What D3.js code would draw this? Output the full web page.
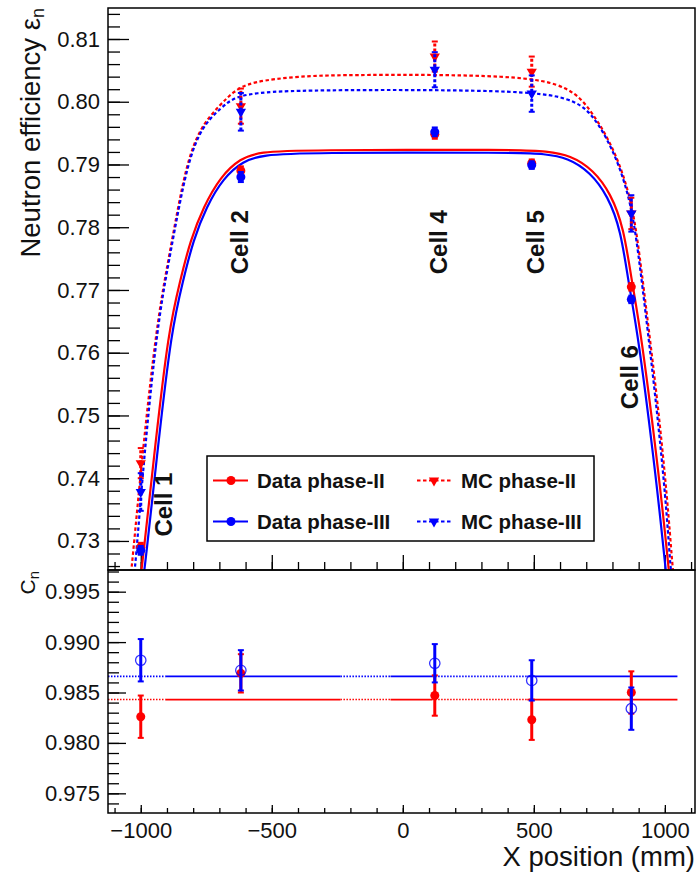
<!DOCTYPE html>
<html>
<head>
<meta charset="utf-8">
<script src="https://cdn.jsdelivr.net/npm/d3@7"></script>
<style>
  body { margin: 0; background: #fff; }
  svg { display: block; font-family: "Liberation Sans", Arial, Helvetica, sans-serif; }
</style>
</head>
<body>
<svg id="chart" width="698" height="872"></svg>
<script>
// cell positions (mm) and efficiencies
var cells = [-1000, -618, 122, 492, 872]
var cellNames = ['Cell 1', 'Cell 2', 'Cell 4', 'Cell 5', 'Cell 6']
var cellLabelX = [-880, -590, 170, 537, 896]
var cellLabelY = [0.7358, 0.7776, 0.7776, 0.7776, 0.7561]

var dataP2 = [0.7290, 0.7890, 0.7948, 0.7902, 0.7705]
var dataP2Err = [0.0007, 0.0007, 0.0007, 0.0006, 0.0006]
var dataP3 = [0.7285, 0.7880, 0.7952, 0.7899, 0.7685]
var dataP3Err = [0.0007, 0.0008, 0.0007, 0.0006, 0.0006]
var mcP2 = [0.7424, 0.7993, 0.8072, 0.8048, 0.7822]
var mcP2Err = [0.0024, 0.0028, 0.0024, 0.0024, 0.0025]
var mcP3 = [0.7378, 0.7984, 0.8051, 0.8013, 0.7822]
var mcP3Err = [0.0030, 0.0030, 0.0028, 0.0029, 0.0029]

// fitted curves [mm, efficiency]
var fitDataP2 = [[-1002, 0.7240], [-995, 0.7258], [-944, 0.7456], [-894, 0.7636], [-849, 0.7716], [-811, 0.7779],
  [-760, 0.7833], [-697, 0.7880], [-620, 0.7910], [-544, 0.7920], [-391, 0.7923], [449, 0.7924], [545, 0.7921],
  [640, 0.7915], [728, 0.7891], [793, 0.7854], [843, 0.7800], [874, 0.7712], [908, 0.7636], [980, 0.7397],
  [1014, 0.7258], [1019, 0.7237]]
var fitDataP3 = [[-991, 0.7240], [-984, 0.7258], [-933, 0.7456], [-883, 0.7636], [-838, 0.7716], [-800, 0.7779],
  [-749, 0.7833], [-686, 0.7878], [-609, 0.7906], [-533, 0.7915], [-380, 0.7919], [449, 0.7919], [535, 0.7917],
  [630, 0.7911], [717, 0.7887], [782, 0.7850], [832, 0.7796], [863, 0.7706], [897, 0.7632], [969, 0.7393],
  [1003, 0.7254], [1008, 0.7237]]
var fitMcP2 = [[-1040, 0.7240], [-1034, 0.7258], [-990, 0.7456], [-938, 0.7647], [-900, 0.7736], [-862, 0.7822],
  [-824, 0.7902], [-773, 0.7960], [-697, 0.7995], [-647, 0.8016], [-582, 0.8032], [-391, 0.8041], [-200, 0.8043],
  [449, 0.8043], [640, 0.8024], [716, 0.7987], [781, 0.7944], [832, 0.7896], [870, 0.7843], [895, 0.7785],
  [927, 0.7676], [972, 0.7524], [1010, 0.7365], [1029, 0.7258], [1035, 0.7240]]
var fitMcP3 = [[-1027, 0.7240], [-1021, 0.7258], [-983, 0.7456], [-935, 0.7647], [-897, 0.7736], [-859, 0.7822],
  [-820, 0.7902], [-769, 0.7960], [-689, 0.7992], [-647, 0.8006], [-571, 0.8014], [-391, 0.8019], [449, 0.8019],
  [640, 0.8006], [716, 0.7984], [778, 0.7943], [828, 0.7896], [866, 0.7843], [891, 0.7785], [923, 0.7676],
  [966, 0.7524], [1004, 0.7365], [1021, 0.7258], [1027, 0.7240]]

// correction factors C_n (lower pad)
var cnP2 = [0.9826, 0.9869, 0.9847, 0.9823, 0.9850]
var cnP2Err = [0.0021, 0.0019, 0.0020, 0.0020, 0.0021]
var cnP3 = [0.9882, 0.9872, 0.9879, 0.9862, 0.9834]
var cnP3Err = [0.0021, 0.0020, 0.0019, 0.0020, 0.0021]
var cnFitP2 = 0.9843
var cnFitP3 = 0.9866
var cnSolidSegs = [[-906, -238], [-47, 112], [475, 1048]]
var cnDottedSegs = [[-1125, -906], [-238, -47], [112, 475]]

var xMajor = [-1000, -500, 0, 500, 1000]
var effMajor = [0.73, 0.74, 0.75, 0.76, 0.77, 0.78, 0.79, 0.80, 0.81]
var cnMajor = [0.975, 0.980, 0.985, 0.990, 0.995]

var RED = '#ff0000'
var BLUE = '#0000ff'

var svg = d3.select('#chart')
var padL = 108, padR = 695, padT = 8, padM = 570, padB = 813

var x = d3.scaleLinear().domain([-1125, 1115]).range([padL, padR])
var yTop = d3.scaleLinear().domain([0.72537, 0.81494]).range([padM, padT])
var yBot = d3.scaleLinear().domain([0.97305, 0.99715]).range([padB, padM])

var steps = function (a, b, s) {
  return d3.range(Math.ceil(a / s - 1e-6), Math.floor(b / s + 1e-6) + 1).map(function (i) { return +(i * s).toFixed(5) })
}

var defs = svg.append('defs')
defs.append('clipPath').attr('id', 'clipTop')
  .append('rect').attr('x', padL).attr('y', padT).attr('width', padR - padL).attr('height', padM - padT)
defs.append('clipPath').attr('id', 'clipBot')
  .append('rect').attr('x', padL).attr('y', padM).attr('width', padR - padL).attr('height', padB - padM)

// ---- axes ----
function yAxis (scale, major, minorStep, fmt, bigLen, smallLen, fs) {
  var d = scale.domain()
  var g = svg.append('g').attr('transform', 'translate(' + padL + ',0)')
  g.append('g').call(d3.axisLeft(scale).tickValues(steps(d[0], d[1], minorStep))
    .tickSizeInner(-smallLen).tickSizeOuter(0).tickFormat(''))
  g.append('g').call(d3.axisLeft(scale).tickValues(major)
    .tickSizeInner(-bigLen).tickSizeOuter(0).tickPadding(8).tickFormat(d3.format(fmt)))
    .selectAll('text').attr('font-size', fs).attr('fill', '#111')
  g.selectAll('.domain').remove()
  g.selectAll('line').attr('stroke', '#000').attr('stroke-width', 1.3)
}
yAxis(yTop, effMajor, 0.002, '.2f', 21, 12, 22)
yAxis(yBot, cnMajor, 0.001, '.3f', 18, 11, 22)

function xAxis (yPos, bigLen, smallLen, labels) {
  var g = svg.append('g').attr('transform', 'translate(0,' + yPos + ')')
  g.append('g').call(d3.axisBottom(x).tickValues(steps(-1100, 1100, 100))
    .tickSizeInner(-smallLen).tickSizeOuter(0).tickFormat(''))
  var maj = g.append('g').call(d3.axisBottom(x).tickValues(xMajor)
    .tickSizeInner(-bigLen).tickSizeOuter(0).tickPadding(9.5)
    .tickFormat(function (v) { return labels ? d3.format('d')(v).replace('-', '\u2212') : '' }))
  maj.selectAll('text').attr('font-size', 22).attr('fill', '#111')
  g.selectAll('.domain').remove()
  g.selectAll('line').attr('stroke', '#000').attr('stroke-width', 1.3)
}
xAxis(padM, 15, 8, false)
xAxis(padB, 8, 5, true)

// axis titles
var yt = svg.append('text').attr('transform', 'translate(40,' + padT + ') rotate(-90)')
  .attr('text-anchor', 'end').attr('font-size', 27.5).attr('fill', '#111')
yt.append('tspan').text('Neutron efficiency \u03b5')
yt.append('tspan').attr('font-size', 18).attr('dy', 4).text('n')

var ct = svg.append('text').attr('transform', 'translate(35,' + (padM + 1) + ') rotate(-90)')
  .attr('text-anchor', 'end').attr('font-size', 21).attr('fill', '#111')
ct.append('tspan').text('C')
ct.append('tspan').attr('font-size', 15).attr('dy', 4).text('n')

svg.append('text').attr('x', padR).attr('y', 866).attr('text-anchor', 'end')
  .attr('font-size', 27.5).attr('fill', '#111').text('X position (mm)')

// ---- top pad ----
var topG = svg.append('g').attr('clip-path', 'url(#clipTop)')
var line = d3.line().x(function (d) { return x(d[0]) }).y(function (d) { return yTop(d[1]) }).curve(d3.curveBasis)

function fitCurve (pts, color, dashed) {
  topG.append('path').attr('d', line(pts)).attr('fill', 'none').attr('stroke', color)
    .attr('stroke-width', 2.2)
    .attr('stroke-dasharray', dashed ? '3.5,2.5' : null)
}
fitCurve(fitMcP2, RED, true)
fitCurve(fitMcP3, BLUE, true)
fitCurve(fitDataP2, RED, false)
fitCurve(fitDataP3, BLUE, false)

var tri = d3.symbol().type(d3.symbolTriangle).size(46)

function points (vals, errs, color, kind, yScale, g) {
  var grp = g.append('g')
  var dash = kind === 'mc' ? '3,2' : null
  cells.forEach(function (c, i) {
    var px = x(c)
    var y0 = yScale(vals[i] - errs[i])
    var y1 = yScale(vals[i] + errs[i])
    grp.append('line').attr('x1', px).attr('x2', px).attr('y1', y0).attr('y2', y1)
      .attr('stroke', color).attr('stroke-width', 3).attr('stroke-dasharray', dash)
    ;[y0, y1].forEach(function (yy) {
      grp.append('line').attr('x1', px - 3).attr('x2', px + 3).attr('y1', yy).attr('y2', yy)
        .attr('stroke', color).attr('stroke-width', 2)
    })
    var py = yScale(vals[i])
    if (kind === 'mc') {
      grp.append('path').attr('d', tri).attr('transform', 'translate(' + px + ',' + py + ') rotate(180)')
        .attr('fill', color)
    } else if (kind === 'open') {
      grp.append('circle').attr('cx', px).attr('cy', py).attr('r', 5.2)
        .attr('fill', 'none').attr('stroke', color).attr('stroke-width', 1.3).attr('opacity', 0.8)
    } else {
      grp.append('circle').attr('cx', px).attr('cy', py).attr('r', 4.5).attr('fill', color)
    }
  })
}
points(mcP2, mcP2Err, RED, 'mc', yTop, topG)
points(mcP3, mcP3Err, BLUE, 'mc', yTop, topG)
points(dataP2, dataP2Err, RED, 'data', yTop, topG)
points(dataP3, dataP3Err, BLUE, 'data', yTop, topG)

// cell labels
cellNames.forEach(function (name, i) {
  svg.append('text')
    .attr('transform', 'translate(' + x(cellLabelX[i]) + ',' + yTop(cellLabelY[i]) + ') rotate(-90)')
    .attr('text-anchor', 'middle').attr('font-size', 24).attr('font-weight', 'bold').attr('fill', '#111')
    .text(name)
})

// legend
var lg = svg.append('g')
lg.append('rect').attr('x', 207).attr('y', 456).attr('width', 387).attr('height', 85)
  .attr('fill', '#fff').attr('stroke', '#000').attr('stroke-width', 1.5)
var legendItems = [
  { label: 'Data phase-II', color: RED, mc: false, col: 0, row: 0 },
  { label: 'MC phase-II', color: RED, mc: true, col: 1, row: 0 },
  { label: 'Data phase-III', color: BLUE, mc: false, col: 0, row: 1 },
  { label: 'MC phase-III', color: BLUE, mc: true, col: 1, row: 1 }
]
legendItems.forEach(function (it) {
  var lx = it.col ? 417 : 213
  var ly = it.row ? 521.5 : 480.5
  lg.append('line').attr('x1', lx).attr('x2', lx + 35).attr('y1', ly).attr('y2', ly)
    .attr('stroke', it.color).attr('stroke-width', 2.2).attr('stroke-dasharray', it.mc ? '3.5,2.5' : null)
  if (it.mc) {
    lg.append('path').attr('d', tri).attr('transform', 'translate(' + (lx + 17) + ',' + ly + ') rotate(180)')
      .attr('fill', it.color)
  } else {
    lg.append('circle').attr('cx', lx + 18).attr('cy', ly).attr('r', 4.5).attr('fill', it.color)
  }
  lg.append('text').attr('x', lx + 44).attr('y', ly + 7).attr('font-size', 20.5).attr('font-weight', 'bold')
    .attr('fill', '#111').text(it.label)
})

// ---- bottom pad ----
var botG = svg.append('g').attr('clip-path', 'url(#clipBot)')
;[[cnFitP2, RED], [cnFitP3, BLUE]].forEach(function (f) {
  cnSolidSegs.forEach(function (s) {
    botG.append('line').attr('x1', x(s[0])).attr('x2', x(s[1])).attr('y1', yBot(f[0])).attr('y2', yBot(f[0]))
      .attr('stroke', f[1]).attr('stroke-width', 1.8)
  })
  cnDottedSegs.forEach(function (s) {
    botG.append('line').attr('x1', x(s[0])).attr('x2', x(s[1])).attr('y1', yBot(f[0])).attr('y2', yBot(f[0]))
      .attr('stroke', f[1]).attr('stroke-width', 1.6).attr('stroke-dasharray', '1.5,1.5')
  })
})
points(cnP2, cnP2Err, RED, 'data', yBot, botG)
points(cnP3, cnP3Err, BLUE, 'open', yBot, botG)

// frames
svg.append('rect').attr('x', padL).attr('y', padT).attr('width', padR - padL).attr('height', padM - padT)
  .attr('fill', 'none').attr('stroke', '#000').attr('stroke-width', 1.5)
svg.append('rect').attr('x', padL).attr('y', padM).attr('width', padR - padL).attr('height', padB - padM)
  .attr('fill', 'none').attr('stroke', '#000').attr('stroke-width', 1.5)
</script>
</body>
</html>
